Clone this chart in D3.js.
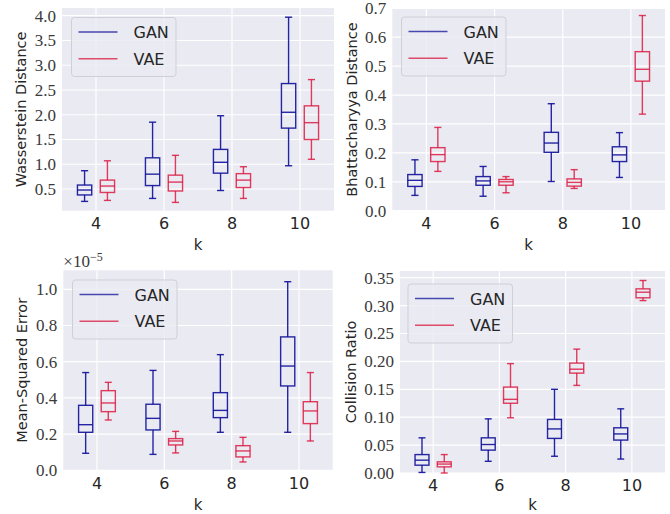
<!DOCTYPE html>
<html>
<head>
<meta charset="utf-8">
<script src="https://d3js.org/d3.v7.min.js"></script>
<style>
  body { margin: 0; background: white; }
</style>
</head>
<body>
<svg width="670" height="514"></svg>
<script>
// box stats are [min, q1, median, q3, max] per k
const ks = ["4", "6", "8", "10"];
const series = ["GAN", "VAE"];

const wassGAN = [[0.25, 0.38, 0.48, 0.58, 0.87], [0.31, 0.57, 0.80, 1.13, 1.85], [0.47, 0.82, 1.04, 1.30, 1.98], [0.97, 1.73, 2.05, 2.63, 3.97]];
const wassVAE = [[0.27, 0.43, 0.56, 0.68, 1.07], [0.23, 0.46, 0.64, 0.78, 1.18], [0.31, 0.53, 0.68, 0.81, 0.95], [1.10, 1.50, 1.84, 2.18, 2.71]];

const bhatGAN = [[0.053, 0.084, 0.105, 0.125, 0.176], [0.050, 0.088, 0.103, 0.118, 0.153], [0.101, 0.202, 0.234, 0.271, 0.370], [0.115, 0.170, 0.193, 0.221, 0.270]];
const bhatVAE = [[0.136, 0.170, 0.194, 0.218, 0.288], [0.062, 0.088, 0.100, 0.108, 0.118], [0.077, 0.085, 0.098, 0.110, 0.142], [0.334, 0.448, 0.489, 0.550, 0.675]];

// mse values in units of 1e-5
const mseGAN = [[0.094, 0.210, 0.252, 0.359, 0.540], [0.088, 0.223, 0.287, 0.365, 0.552], [0.210, 0.291, 0.331, 0.429, 0.639], [0.210, 0.466, 0.576, 0.737, 1.042]];
const mseVAE = [[0.278, 0.324, 0.372, 0.440, 0.486], [0.096, 0.140, 0.162, 0.175, 0.215], [0.046, 0.074, 0.107, 0.136, 0.182], [0.162, 0.258, 0.328, 0.379, 0.540]];

const collGAN = [[0.001, 0.014, 0.023, 0.033, 0.063], [0.021, 0.041, 0.051, 0.063, 0.097], [0.030, 0.062, 0.079, 0.096, 0.150], [0.025, 0.059, 0.070, 0.081, 0.115]];
const collVAE = [[0.000, 0.011, 0.016, 0.020, 0.033], [0.099, 0.125, 0.132, 0.154, 0.196], [0.157, 0.179, 0.186, 0.197, 0.222], [0.309, 0.314, 0.324, 0.330, 0.345]];

const wassTicks = [0.5, 1.0, 1.5, 2.0, 2.5, 3.0, 3.5, 4.0];
const bhatTicks = [0.0, 0.1, 0.2, 0.3, 0.4, 0.5, 0.6, 0.7];
const mseTicks = [0.0, 0.2, 0.4, 0.6, 0.8, 1.0];
const collTicks = [0.00, 0.05, 0.10, 0.15, 0.20, 0.25, 0.30, 0.35];

const colors = { GAN: '#10109a', VAE: '#dc143c' };
const opac = { GAN: 0.9, VAE: 0.82 };

let svg = d3.select('svg');

const panels = [
  { label: "Wasserstein Distance", gan: wassGAN, vae: wassVAE, ticks: wassTicks, fmt: ".1f",
    x0: 62, x1: 334, y0: 8, y1: 210.7, dom: [0.062, 4.156], labX: 26, kY: 250, legX: 71.5, legY: 17.5 },
  { label: "Bhattacharyya Distance", gan: bhatGAN, vae: bhatVAE, ticks: bhatTicks, fmt: ".1f",
    x0: 392.3, x1: 665, y0: 8.3, y1: 210.7, dom: [0, 0.7], labX: 356.5, kY: 249.5, legX: 401.5, legY: 17 },
  { label: "Mean-Squared Error", gan: mseGAN, vae: mseVAE, ticks: mseTicks, fmt: ".1f",
    x0: 63.3, x1: 332.7, y0: 270.3, y1: 470.3, dom: [0, 1.105], labX: 27, kY: 509.5, legX: 72.5, legY: 280, sci: true },
  { label: "Collision Ratio", gan: collGAN, vae: collVAE, ticks: collTicks, fmt: ".2f",
    x0: 400, x1: 665, y0: 271, y1: 473, dom: [0, 0.362], labX: 356, kY: 509.5, legX: 408, legY: 284 }
];

panels.forEach(p => drawPanel(p));

function drawPanel(p) {
  let g = svg.append('g');

  let xScale = d3.scaleBand()
    .domain(ks)
    .range([p.x0, p.x1])
    .padding(0);
  let yScale = d3.scaleLinear()
    .domain(p.dom)
    .range([p.y1, p.y0]);
  let step = xScale.bandwidth();

  g.append('rect')
    .attr('x', p.x0).attr('y', p.y0)
    .attr('width', p.x1 - p.x0).attr('height', p.y1 - p.y0)
    .attr('fill', '#eaeaf2');

  // grid
  g.selectAll('.hgrid')
    .data(p.ticks)
    .enter()
    .append('line')
    .attr('x1', p.x0).attr('x2', p.x1)
    .attr('y1', d => yScale(d)).attr('y2', d => yScale(d))
    .attr('stroke', 'white').attr('stroke-width', 1.2);
  g.selectAll('.vgrid')
    .data(ks)
    .enter()
    .append('line')
    .attr('x1', d => xScale(d) + step / 2).attr('x2', d => xScale(d) + step / 2)
    .attr('y1', p.y0).attr('y2', p.y1)
    .attr('stroke', 'white').attr('stroke-width', 1.2);

  // axes
  let yAxis = g.append('g')
    .attr('transform', `translate(${p.x0}, 0)`)
    .call(d3.axisLeft(yScale).tickValues(p.ticks).tickFormat(d3.format(p.fmt)).tickSize(0).tickPadding(6));
  yAxis.select('.domain').remove();
  yAxis.selectAll('text')
    .attr('font-family', '"Liberation Serif", serif')
    .attr('font-size', '17px')
    .attr('fill', '#3a3a3a');

  let xAxis = g.append('g')
    .attr('transform', `translate(0, ${p.y1})`)
    .call(d3.axisBottom(xScale).tickSize(0).tickPadding(7));
  xAxis.select('.domain').remove();
  xAxis.selectAll('text')
    .attr('font-family', '"DejaVu Sans", sans-serif')
    .attr('font-size', '16px')
    .attr('fill', '#262626');

  // labels
  g.append('text')
    .attr('x', (p.x0 + p.x1) / 2)
    .attr('y', p.kY)
    .attr('text-anchor', 'middle')
    .attr('font-family', '"DejaVu Sans", sans-serif')
    .attr('font-size', '15px')
    .attr('fill', '#262626')
    .text('k');

  g.append('text')
    .attr('transform', `translate(${p.labX}, ${(p.y0 + p.y1) / 2}) rotate(-90)`)
    .attr('text-anchor', 'middle')
    .attr('font-family', '"DejaVu Sans", sans-serif')
    .attr('font-size', '14.5px')
    .attr('fill', '#262626')
    .text(p.label);

  if (p.sci) {
    let t = g.append('text')
      .attr('x', p.x0)
      .attr('y', p.y0 - 3)
      .attr('font-family', '"Liberation Serif", serif')
      .attr('font-size', '17px')
      .attr('fill', '#3a3a3a');
    t.append('tspan').text('\u00d710');
    t.append('tspan').attr('dy', -6).attr('font-size', '12px').text('\u22125');
  }

  // boxes
  let boxData = [];
  ks.forEach((k, i) => {
    boxData.push({ k: k, s: 'GAN', v: p.gan[i], off: -0.168 });
    boxData.push({ k: k, s: 'VAE', v: p.vae[i], off: 0.168 });
  });
  let bw = step * 0.21;
  let cw = step * 0.105;

  let boxes = g.selectAll('.box')
    .data(boxData)
    .enter()
    .append('g')
    .attr('stroke', d => colors[d.s])
    .attr('stroke-opacity', d => opac[d.s])
    .attr('stroke-width', 1.4)
    .attr('fill', 'none');
  let cx = d => xScale(d.k) + step / 2 + d.off * step;

  boxes.append('line')
    .attr('x1', cx).attr('x2', cx)
    .attr('y1', d => yScale(d.v[0])).attr('y2', d => yScale(d.v[1]));
  boxes.append('line')
    .attr('x1', cx).attr('x2', cx)
    .attr('y1', d => yScale(d.v[3])).attr('y2', d => yScale(d.v[4]));
  boxes.append('line')
    .attr('x1', d => cx(d) - cw / 2).attr('x2', d => cx(d) + cw / 2)
    .attr('y1', d => yScale(d.v[0])).attr('y2', d => yScale(d.v[0]));
  boxes.append('line')
    .attr('x1', d => cx(d) - cw / 2).attr('x2', d => cx(d) + cw / 2)
    .attr('y1', d => yScale(d.v[4])).attr('y2', d => yScale(d.v[4]));
  boxes.append('rect')
    .attr('x', d => cx(d) - bw / 2)
    .attr('y', d => yScale(d.v[3]))
    .attr('width', bw)
    .attr('height', d => yScale(d.v[1]) - yScale(d.v[3]));
  boxes.append('line')
    .attr('x1', d => cx(d) - bw / 2).attr('x2', d => cx(d) + bw / 2)
    .attr('y1', d => yScale(d.v[2])).attr('y2', d => yScale(d.v[2]));

  // legend
  let leg = g.append('g').attr('transform', `translate(${p.legX}, ${p.legY})`);
  leg.append('rect')
    .attr('width', 104.5).attr('height', 59)
    .attr('rx', 3)
    .attr('fill', '#eaeaf2').attr('fill-opacity', 0.8)
    .attr('stroke', '#cfcfd6');
  series.forEach((s, i) => {
    leg.append('line')
      .attr('x1', 7).attr('x2', 46)
      .attr('y1', 14.5 + i * 26.7).attr('y2', 14.5 + i * 26.7)
      .attr('stroke', colors[s]).attr('stroke-opacity', 0.75).attr('stroke-width', 1.4);
    leg.append('text')
      .attr('x', 62).attr('y', 20.5 + i * 26.7)
      .attr('font-family', '"DejaVu Sans", sans-serif')
      .attr('font-size', '16px')
      .attr('fill', '#262626')
      .text(s);
  });
}
</script>
</body>
</html>
